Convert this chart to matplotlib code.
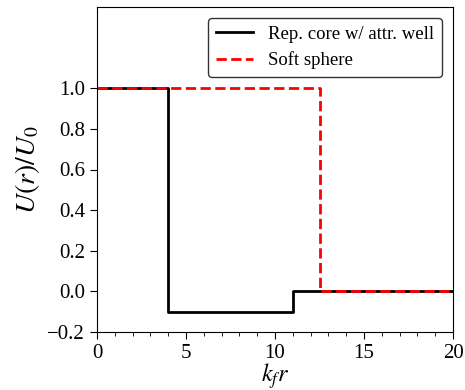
import matplotlib
matplotlib.use("Agg")
import matplotlib.pyplot as plt
from matplotlib.ticker import MultipleLocator

plt.rcParams['font.family'] = ['Liberation Serif', 'DejaVu Serif']
plt.rcParams['mathtext.fontset'] = 'stix'

# Step potentials (x breakpoints and values)
core_x = [0, 4, 4, 11, 11, 20]
core_y = [1.0, 1.0, -0.1, -0.1, 0.0, 0.0]
soft_x = [0, 12.5, 12.5, 20]
soft_y = [1.0, 1.0, 0.0, 0.0]
labels = ["Rep. core w/ attr. well", "Soft sphere"]

fig = plt.figure(figsize=(4.65, 3.9), dpi=100)
ax = fig.add_axes([97/465, 1-332/390, (453-97)/465, (332-7)/390])
ax.plot(core_x, core_y, color='black', lw=2, label=labels[0])
ax.plot(soft_x, soft_y, color='red', ls='--', lw=2, label=labels[1])
ax.set_xlim(0, 20)
ax.set_ylim(-0.2, 1.4)
ax.set_yticks([-0.2, 0.0, 0.2, 0.4, 0.6, 0.8, 1.0])
ax.set_xticks([0, 5, 10, 15, 20])
ax.xaxis.set_minor_locator(MultipleLocator(1))
ax.tick_params(labelsize=15, length=5)
ax.tick_params(which='minor', length=3)
ax.set_xlabel(r'$k_f r$', fontsize=17.5, labelpad=-1)
ax.set_ylabel(r'$U(r)/U_0$', fontsize=20)
ax.legend(loc='upper right', fontsize=13.5, frameon=True, fancybox=True, edgecolor='#333333',
          framealpha=1, handlelength=2.0, borderaxespad=0.6, labelspacing=0.45)
fig.savefig('out.png', dpi=100)
